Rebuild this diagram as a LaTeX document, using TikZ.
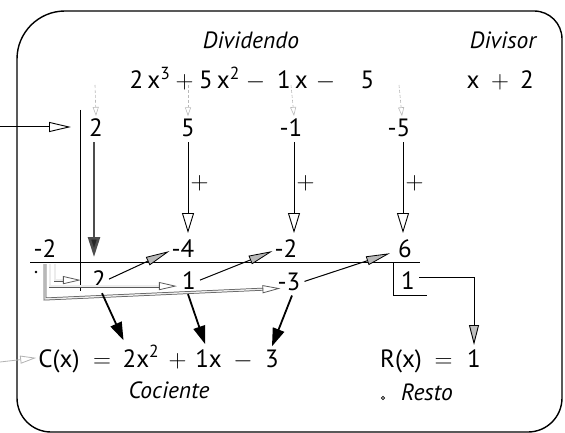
\documentclass[tikz,border=0pt]{standalone}
\usepackage{fontspec}
\setmainfont{PT Sans}
\usetikzlibrary{arrows.meta}
\begin{document}
\begin{tikzpicture}[x=1pt,y=-1pt,
  num/.style={font=\fontsize{25}{30}\selectfont, inner sep=1pt, anchor=base},
  lab/.style={font=\fontsize{23.5}{28}\selectfont\itshape, inner sep=1pt, anchor=base},
  frame/.style={line width=1.4pt},
  rule/.style={line width=0.9pt},
  dotarrow/.style={draw=gray!55, densely dashed, line width=0.6pt, -{Triangle[open,length=9pt,width=6pt]}},
  plusarrow/.style={line width=1pt, -{Triangle[open,length=20pt,width=12pt,line width=0.9pt]}},
  openarrow/.style={line width=1pt, -{Triangle[open,length=22pt,width=10pt,line width=0.9pt]}},
  grayopen/.style={draw=gray!60, line width=0.8pt, -{Triangle[open,length=16pt,width=8pt]}},
  downgray/.style={draw=gray!60!black, line width=2.6pt, -{Triangle[length=20pt,width=12pt,fill=black!85]}},
  diag/.style={line width=1pt, -{Triangle[length=24pt,width=9pt,fill=gray!55,line width=0.8pt]}},
  mult/.style={draw=gray!70!black, double=gray!15, double distance=1.4pt, line width=0.75pt, -{Triangle[open,length=18pt,width=8pt,line width=0.8pt]}},
  thick/.style={line width=1.8pt, -{Triangle[length=18pt,width=12pt]}},
  restarrow/.style={line width=1pt, -{Triangle[length=20pt,width=10pt,fill=gray!50,line width=0.9pt]}}
]
\useasboundingbox (0,0) rectangle (565,433);

% frame
\draw[frame] (17,59) .. controls (17,32.5) and (38.5,11) .. (65,11)
  -- (534,11) .. controls (549.5,11) and (562,23.5) .. (562,39)
  -- (562,398) .. controls (562,416.8) and (546.8,432) .. (528,432)
  -- (51,432) .. controls (32.2,432) and (17,416.8) .. (17,398) -- cycle;

% headings
\node[lab] (dvd) at (251,49) {Dividendo};
\node[lab] (dvs) at (503,49) {Divisor};

% dividend polynomial
\node[num] (p1) at (150,89) {2\,x\textsuperscript{3}};
\node[num] (p2) at (184.5,89) {$+$};
\node[num] (p3) at (219.5,89) {5\,x\textsuperscript{2}};
\node[num] (p4) at (255.5,89) {$-$};
\node[num] (p5) at (292.5,89) {1\,x};
\node[num] (p6) at (325.5,89) {$-$};
\node[num] (p7) at (367.5,89) {5};
% divisor
\node[num] (s1) at (473,89) {x};
\node[num] (s2) at (500,89) {$+$};
\node[num] (s3) at (527,89) {2};

% coefficients
\node[num] (a2) at (96,137) {2};
\node[num] (a5) at (188,137) {5};
\node[num] (am1) at (291,137) {-1};
\node[num] (am5) at (399,137) {-5};

% products row
\node[num] (m2) at (45,257) {-2};
\node[num] (b4) at (183,257) {-4};
\node[num] (b2) at (286,257) {-2};
\node[num] (b6) at (405,257) {6};

% result row
\node[num] (q2) at (99,288) {2};
\node[num] (q1) at (189,289) {1};
\node[num] (qm3) at (289,290) {-3};
\node[num] (r1) at (408,289) {1};

% quotient
\node[num] (cxa) at (59,367) {C(x)};
\node[num] (cxb) at (102,367) {$=$};
\node[num] (cxc) at (141,367) {2x\textsuperscript{2}};
\node[num] (cxd) at (177.5,367) {$+$};
\node[num] (cxe) at (208.5,367) {1x};
\node[num] (cxf) at (243,367) {$-$};
\node[num] (cxg) at (272,367) {3};
% remainder
\node[num] (rxa) at (401,367) {R(x)};
\node[num] (rxb) at (443.5,367) {$=$};
\node[num] (rx1) at (474,367) {1};

\node[lab] (coc) at (169,398) {Cociente};
\node[lab] (res) at (427,400) {Resto};
\draw[line width=0.6pt] (383,398) circle (1.6pt);
\fill (36,272) circle (1.3pt);

% scheme lines
\coordinate (vt) at (80,110);
\coordinate (vb) at (80,291);
\coordinate (hl) at (30,262);
\coordinate (hr) at (420,262);
\draw[rule] (vt) -- (vb);
\draw[rule] (hl) -- (hr);
\coordinate (rt) at (393,262);
\coordinate (rb) at (393,295);
\coordinate (rr) at (427,295);
\draw[rule] (rt) -- (rb) -- (rr);

% input arrow
\coordinate (in) at (0,127);
\coordinate (inend) at (71,127);
\draw[openarrow] (in) -- (inend);

% dotted arrows from the polynomial
\coordinate (d1) at (95,85);
\coordinate (d2) at (188,85);
\coordinate (d3) at (291,85);
\coordinate (d4) at (399,85);
\draw[dotarrow] (d1) -- ([yshift=2pt]a2.north);
\draw[dotarrow] (d2) -- ([yshift=2pt]a5.north);
\draw[dotarrow] (d3) -- ([yshift=2pt,xshift=3pt]am1.north);
\draw[dotarrow] (d4) -- ([yshift=2pt,xshift=3pt]am5.north);

% first coefficient goes down
\draw[downgray] ([xshift=-2pt,yshift=-4pt]a2.south) -- ([xshift=-2pt,yshift=5pt]a2.south |- hl);

% additions
\draw[plusarrow] ([yshift=-4pt]a5.south) -- ([yshift=5pt]a5.south |- b4.north) node[pos=0.45, right=1pt, font=\fontsize{25}{30}\selectfont, inner sep=1pt] {$+$};
\draw[plusarrow] ([xshift=3pt,yshift=-4pt]am1.south) -- ([xshift=3pt,yshift=5pt]am1.south |- b2.north) node[pos=0.45, right=1pt, font=\fontsize{25}{30}\selectfont, inner sep=1pt] {$+$};
\draw[plusarrow] ([xshift=4pt,yshift=-4pt]am5.south) -- ([xshift=4pt,yshift=5pt]am5.south |- b6.north) node[pos=0.45, right=1pt, font=\fontsize{25}{30}\selectfont, inner sep=1pt] {$+$};

% products go up diagonally
\draw[diag] ([xshift=2pt]q2.east) -- ([xshift=-1pt,yshift=-3pt]b4.west);
\draw[diag] ([xshift=3pt]q1.east) -- ([xshift=-1pt,yshift=-3pt]b2.west);
\draw[diag] ([xshift=3pt]qm3.east) -- ([xshift=-7pt,yshift=-5pt]b6.west);

% multiplication by -2
\coordinate (k1) at (55,264);
\coordinate (k2) at (50,264);
\coordinate (k3) at (45,264);
\coordinate (k3b) at (45,299);
\draw[mult] (k1) |- ([xshift=-10pt,yshift=-1pt]q2.west);
\draw[mult] (k2) |- ([xshift=-4pt,yshift=-6pt]q1.west);
\draw[mult] (k3) -- (k3b) -- ([xshift=4pt,yshift=-7pt]qm3.west);

% quotient arrows
\draw[thick] ([xshift=3pt,yshift=-4pt]q2.south) -- ([xshift=2pt,yshift=4pt]cxc.north west);
\draw[thick] ([xshift=-1pt,yshift=-4pt]q1.south) -- ([xshift=11pt,yshift=4pt]cxe.north west);
\draw[thick] ([xshift=3pt,yshift=-4pt]qm3.south) -- ([yshift=2pt]cxg.north);

% remainder arrow
\draw[restarrow] ([xshift=3pt,yshift=3pt]r1.east) -| ([yshift=3pt]rx1.north);

% quotient pointer
\coordinate (cin) at (0,362);
\draw[grayopen] (cin) -- ([xshift=-1pt,yshift=3pt]cxa.west);
\end{tikzpicture}
\end{document}
